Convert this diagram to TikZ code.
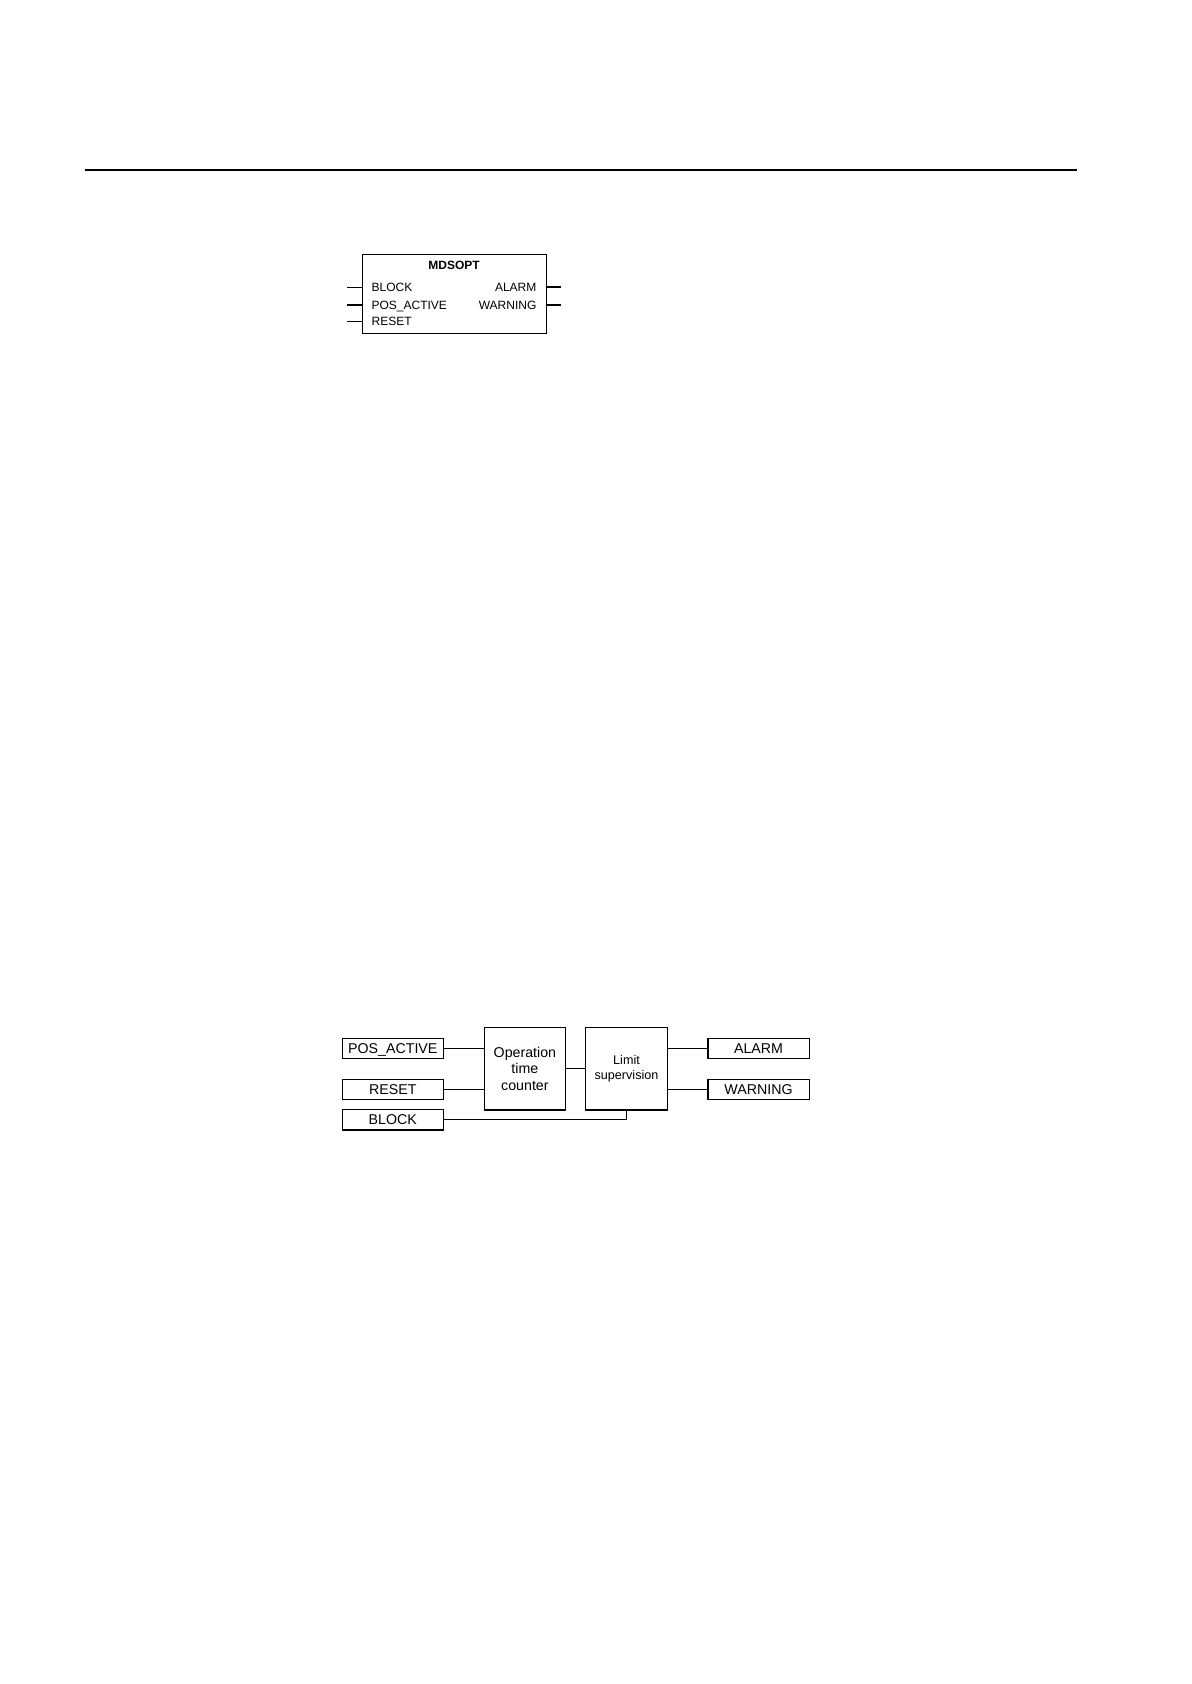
\documentclass[tikz,border=0pt]{standalone}
\usepackage{fontspec}
\setmainfont{Liberation Sans}
\begin{document}
\begin{tikzpicture}[x=0.5pt,y=-0.5pt,line width=0.6pt,
  inlbl/.style={anchor=base west,inner sep=0pt,font=\fontsize{6}{7}\selectfont},
  outlbl/.style={anchor=base east,inner sep=0pt,font=\fontsize{6}{7}\selectfont},
  sig/.style={draw,rectangle,inner sep=0pt,minimum width=50.6pt,minimum height=10.2pt,
    text height=5.08pt,text depth=0pt,font=\fontsize{7.1}{8.4}\selectfont},
  func/.style={draw,rectangle,inner sep=0pt,minimum width=40.8pt,minimum height=41.3pt,align=center}]
\useasboundingbox (0,0) rectangle (1191,1684);
% header rule
\coordinate (rl) at (85,170);
\coordinate (rr) at (1077,170);
\draw[line width=1pt] (rl) -- (rr);
% function block symbol
\node[draw,rectangle,anchor=north west,inner sep=0pt,minimum width=92pt,minimum height=39.5pt] (fb) at (362,254.3) {};
\node[font=\bfseries\fontsize{6}{7}\selectfont,inner sep=0pt] (title) at (454,265) {MDSOPT};
\coordinate (iBLOCK) at (347,287.3);
\coordinate (iPOS) at (347,305);
\coordinate (iRESET) at (347,321.5);
\coordinate (oALARM) at (561,287.3);
\coordinate (oWARN) at (561,305);
\draw (iBLOCK) -- (iBLOCK -| fb.west);
\draw (iPOS) -- (iPOS -| fb.west);
\draw (iRESET) -- (iRESET -| fb.west);
\draw[line width=1.1pt] (oALARM -| fb.east) -- (oALARM);
\draw (oWARN -| fb.east) -- (oWARN);
\node[inlbl] (lBLOCK) at (371,291.6) {BLOCK};
\node[inlbl] (lPOS) at (371,309.3) {POS\_ACTIVE};
\node[inlbl] (lRESET) at (371,325.8) {RESET};
\node[outlbl] (lALARM) at (537,291.6) {ALARM};
\node[outlbl] (lWARN) at (537,309.3) {WARNING};
% functional diagram
\node[sig] (pa) at (392.8,1048.3) {POS\_ACTIVE};
\node[sig] (rs) at (392.8,1089.3) {RESET};
\node[sig] (bk) at (392.8,1119.7) {BLOCK};
\node[func,font=\fontsize{7.1}{8.35}\selectfont] (op) at (524.9,1068.7) {Operation\\time\\counter};
\node[func,font=\fontsize{6.3}{7.65}\selectfont] (lim) at (626.5,1068.7) {Limit\\supervision};
\node[sig] (al) at (758.5,1048.3) {ALARM};
\node[sig] (wr) at (758.5,1089.3) {WARNING};
\draw (pa.east) -- (pa.east -| op.west);
\draw (rs.east) -- (rs.east -| op.west);
\draw (op.east) -- (lim.west);
\draw (al.west -| lim.east) -- (al.west);
\draw (wr.west -| lim.east) -- (wr.west);
\draw (bk.east) -| (lim.south);
\end{tikzpicture}
\end{document}
